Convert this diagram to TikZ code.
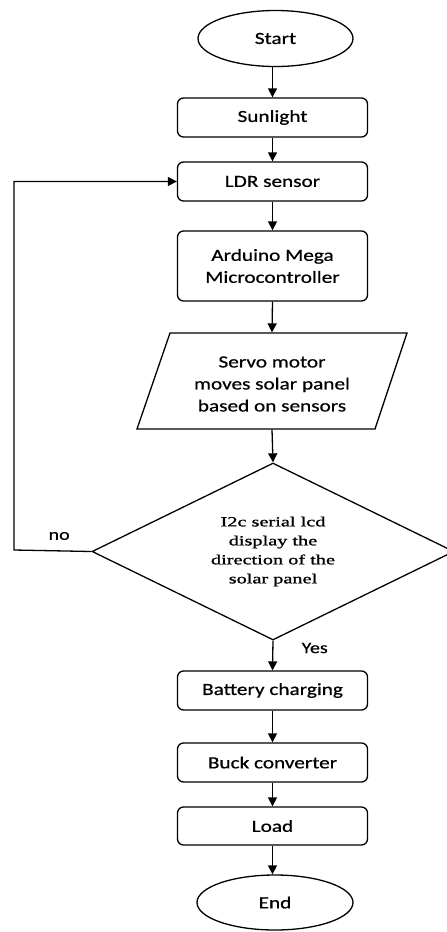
\documentclass[tikz,border=0pt]{standalone}
\usepackage{fontspec}
\setmainfont[FakeStretch=1.25,FakeBold=0.6]{Carlito}
\newfontfamily\dserif[FakeStretch=1.45,FakeBold=1.2]{Liberation Serif}
\usetikzlibrary{shapes.geometric,arrows.meta}
\begin{document}
\begin{tikzpicture}[x=1pt,y=-1pt, line width=1.3pt,
  >={Triangle[length=9pt,width=9pt]},
  box/.style={draw, rounded corners=6pt, minimum width=190pt, minimum height=39pt, align=center, font=\fontsize{17}{22}\selectfont, inner sep=0pt},
  term/.style={draw, ellipse, minimum width=155pt, minimum height=56pt, inner sep=0pt, font=\fontsize{17}{22}\selectfont},
  txt/.style={align=center, inner sep=0pt, font=\fontsize{17}{22}\selectfont},
  lbl/.style={font=\fontsize{16}{20}\selectfont, inner sep=0pt},
  conn/.style={->}]
\useasboundingbox (0,0) rectangle (447,932);
\fill[white] (0,0) rectangle (447,932);

\node[term] (start) at (275.5,38.5) {Start};
\node[box] (sun) at (272.5,117.5) {Sunlight};
\node[box] (ldr) at (272.5,181.5) {LDR sensor};
\node[box, minimum height=70pt] (ard) at (272.5,266) {Arduino Mega\\Microcontroller};

% parallelogram
\node[minimum width=238pt, minimum height=96pt, inner sep=0pt] (servo) at (272,381) {};
\draw (170,333) -- (407,333) -- (375,429) -- (137,429) -- cycle;
\node[txt] (servotxt) at (272,384) {Servo motor\\moves solar panel\\based on sensors};

\node[draw, diamond, aspect=2, minimum width=362pt, minimum height=177pt, inner sep=0pt,
      align=center, font=\dserif\fontsize{14}{19}\selectfont] (dec) at (273,551.5)
      {I2c serial lcd\\display the\\direction of the\\solar panel};

\node[box] (batt) at (272.5,690.5) {Battery charging};
\node[box] (buck) at (272.5,762.5) {Buck converter};
\node[box, minimum height=38pt] (load) at (272.5,826) {Load};
\node[term, minimum width=156pt, minimum height=55pt] (end) at (275,902.5) {End};

\draw[conn] (start.south -| sun.north) -- (sun.north);
\draw[conn] (sun) -- (ldr);
\draw[conn] (ldr) -- (ard);
\draw[conn] (ard.south) -- (servo.north);
\draw[conn] (servo.south) -- (dec.north);
\draw[conn] (dec.south) -- (batt.north);
\draw[conn] (batt) -- (buck);
\draw[conn] (buck) -- (load);
\draw[conn] (load.south) -- (load.south |- end.north);

\coordinate (lp) at (14,550);
\draw[conn] (dec.west) -- (lp) |- (ldr.west);

\node[lbl, anchor=west] (no) at (48,536) {no};
\node[lbl, anchor=west] (yes) at (301,648) {Yes};
\end{tikzpicture}
\end{document}
